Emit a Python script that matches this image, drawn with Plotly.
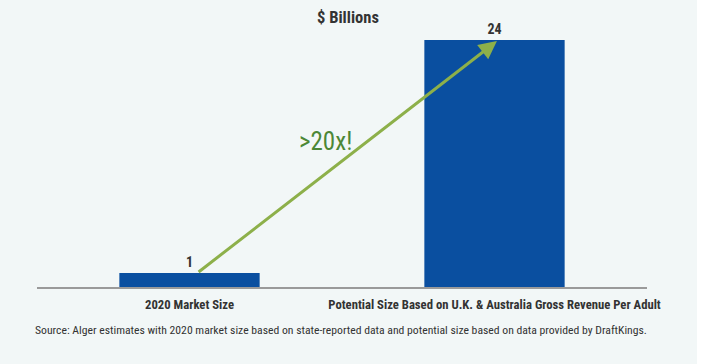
import plotly.graph_objects as go

categories = ["2020 Market Size", "Potential Size Based on U.K. & Australia Gross Revenue Per Adult"]
values = [1.35, 24]
value_labels = ["1", "24"]
title_text = "$ Billions"
growth_text = ">20x!"
source_text = ("Source: Alger estimates with 2020 market size based on state-reported data "
               "and potential size based on data provided by DraftKings.")

NARROW = "Liberation Sans Narrow, Roboto Condensed, DejaVu Sans Condensed, Arial Narrow, sans-serif"
BG = "#F2F7F7"
BLUE = "#0A4FA0"
GREEN = "#8DB04A"
TEXT_GREEN = "#4C8736"
DARK = "#333333"

fig = go.Figure()
fig.add_trace(go.Bar(
    x=categories, y=values,
    text=["<b>" + t + "</b>" for t in value_labels], textposition="outside",
    textfont=dict(family=NARROW, size=14, color=DARK),
    marker=dict(color=BLUE, line=dict(width=0)),
    cliponaxis=False, hoverinfo="skip",
))

fig.update_layout(
    width=709, height=364,
    margin=dict(l=37, r=62, t=20, b=77),
    paper_bgcolor=BG, plot_bgcolor=BG,
    bargap=0.54, showlegend=False,
    title=dict(text="<b>" + title_text + "</b>", x=348 / 709, xanchor="center",
               y=1 - 17 / 364, yanchor="middle", yref="container",
               font=dict(family=NARROW, size=16.5, color=DARK)),
    xaxis=dict(showgrid=False, showline=True, linecolor="#9A9A9A", linewidth=2,
               ticks="", tickfont=dict(family=NARROW, size=12.7, color=DARK),
               tickprefix="<b>", ticksuffix="</b>", ticklabelstandoff=5),
    yaxis=dict(visible=False, range=[0, 25.95]),
)

# arrow from top of first bar to top of second bar
fig.add_annotation(
    x=1 + 0.008, y=values[1] - 0.1, ax=0 + 0.025, ay=values[0],
    xref="x", yref="y", axref="x", ayref="y",
    text="", showarrow=True, arrowhead=2, arrowsize=1.2, arrowwidth=3,
    arrowcolor=GREEN, standoff=0,
)
fig.add_annotation(
    x=0.4475, y=14.1, xref="x", yref="y", text=growth_text, showarrow=False,
    font=dict(family=NARROW, size=25, color=TEXT_GREEN),
)
fig.add_annotation(
    x=-0.0066, y=-0.161, xref="paper", yref="paper", xanchor="left", yanchor="middle",
    text=source_text, showarrow=False,
    font=dict(family=NARROW, size=11.7, color=DARK),
)
fig.add_shape(type="rect", xref="paper", yref="paper",
              x0=(697 - 37) / 610, x1=1.2, y0=-0.5, y1=1.2,
              fillcolor="white", line=dict(width=0), layer="below")

fig.write_html("out.html", config={"displayModeBar": False},
               post_script="document.body.style.margin='0px';")
